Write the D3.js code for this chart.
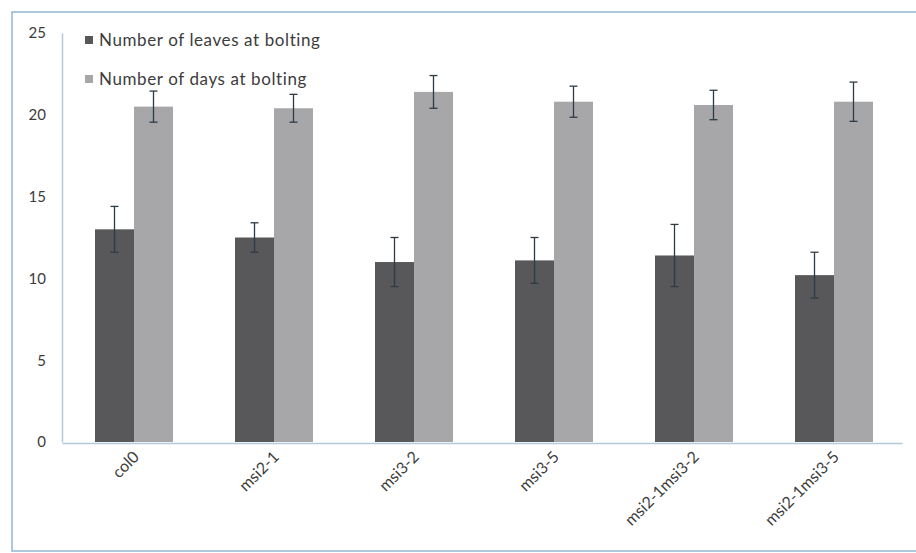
<!DOCTYPE html>
<html lang="en">
<head>
<meta charset="utf-8">
<script src="https://cdnjs.cloudflare.com/ajax/libs/d3/7.8.5/d3.min.js"></script>
<style>
  body { margin: 0; background: #fff; }
  text { font-family: Lato, "Liberation Sans", sans-serif; fill: #3c3c3c; }
  .tick text { font-size: 15px; }
</style>
</head>
<body>
<svg width="916" height="553"></svg>
<script>
// chart data
var genotypes = ["col0", "msi2-1", "msi3-2", "msi3-5", "msi2-1msi3-2", "msi2-1msi3-5"];
var seriesNames = ["Number of leaves at bolting", "Number of days at bolting"];
var leaves = [13.0, 12.5, 11.0, 11.1, 11.4, 10.2];
var leavesErr = [1.4, 0.9, 1.5, 1.4, 1.9, 1.4];
var days = [20.5, 20.4, 21.4, 20.8, 20.6, 20.8];
var daysErr = [0.95, 0.85, 1.0, 0.95, 0.9, 1.2];
var yTicks = [0, 5, 10, 15, 20, 25];
var colors = ["#58585a", "#a7a7a9"];

var svg = d3.select("svg");

// outer frame
svg.append("rect")
    .attr("x", 12).attr("y", 12)
    .attr("width", 920).attr("height", 539)
    .attr("fill", "none")
    .attr("stroke", "#93b6cf")
    .attr("stroke-width", 1.5);

var x0 = d3.scaleBand().domain(genotypes).range([62, 902]);
var x1 = d3.scaleBand().domain(seriesNames).range([33, 111]);
var y = d3.scaleLinear().domain([0, 25]).range([442, 33]);

// y axis
var yAxis = svg.append("g")
    .attr("transform", "translate(62,0)")
    .call(d3.axisLeft(y).tickValues(yTicks).tickSize(0).tickPadding(16));
yAxis.select(".domain").attr("stroke", "#b3cadb").attr("stroke-width", 1.5);

// x axis
var xAxis = svg.append("g")
    .attr("transform", "translate(0,443)")
    .call(d3.axisBottom(x0).tickSize(0).tickFormat(""));
xAxis.select(".domain").attr("stroke", "#b3cadb").attr("stroke-width", 1.5);

// rotated category labels
svg.selectAll(".xlab")
    .data(genotypes)
    .enter().append("text")
    .attr("class", "xlab")
    .attr("transform", function(d) {
        return "translate(" + (x0(d) + x0.bandwidth() / 2 + 8) + ",458) rotate(-45)";
    })
    .attr("text-anchor", "end")
    .style("font-size", "16px")
    .text(function(d) { return d; });

var table = genotypes.map(function(g, i) {
    return [
        {g: g, s: seriesNames[0], v: leaves[i], e: leavesErr[i], c: colors[0]},
        {g: g, s: seriesNames[1], v: days[i], e: daysErr[i], c: colors[1]}
    ];
});
var flat = [].concat.apply([], table);

svg.selectAll(".bar")
    .data(flat)
    .enter().append("rect")
    .attr("class", "bar")
    .attr("x", function(d) { return x0(d.g) + x1(d.s); })
    .attr("y", function(d) { return y(d.v); })
    .attr("width", x1.bandwidth())
    .attr("height", function(d) { return y(0) - y(d.v); })
    .attr("fill", function(d) { return d.c; });

// error bars
var eb = svg.selectAll(".err")
    .data(flat)
    .enter().append("g")
    .attr("class", "err")
    .attr("stroke", "#2e3b44")
    .attr("stroke-width", 1.3);
eb.append("line")
    .attr("x1", function(d) { return x0(d.g) + x1(d.s) + x1.bandwidth() / 2; })
    .attr("x2", function(d) { return x0(d.g) + x1(d.s) + x1.bandwidth() / 2; })
    .attr("y1", function(d) { return y(d.v + d.e); })
    .attr("y2", function(d) { return y(d.v - d.e); });
[1, -1].forEach(function(sign) {
    eb.append("line")
        .attr("x1", function(d) { return x0(d.g) + x1(d.s) + x1.bandwidth() / 2 - 4; })
        .attr("x2", function(d) { return x0(d.g) + x1(d.s) + x1.bandwidth() / 2 + 4; })
        .attr("y1", function(d) { return y(d.v + sign * d.e); })
        .attr("y2", function(d) { return y(d.v + sign * d.e); });
});

// legend
var leg = svg.selectAll(".leg")
    .data(seriesNames)
    .enter().append("g")
    .attr("class", "leg")
    .attr("transform", function(d, i) { return "translate(85," + (41 + i * 39) + ")"; });
leg.append("rect")
    .attr("x", 0).attr("y", -5)
    .attr("width", 8).attr("height", 8)
    .attr("fill", function(d, i) { return colors[i]; });
leg.append("text")
    .attr("x", 14).attr("y", 5)
    .style("font-size", "17px")
    .style("letter-spacing", "0.6px")
    .text(function(d) { return d; });
</script>
</body>
</html>
